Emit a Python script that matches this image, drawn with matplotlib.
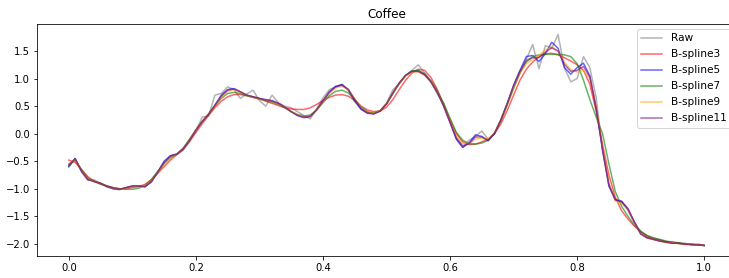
import numpy as np
import matplotlib
matplotlib.use("Agg")
import matplotlib.pyplot as plt

# sample positions (0 .. 1 in steps of 0.01)
t = np.round(np.arange(101) * 0.01, 2)

raw = [-0.60, -0.45, -0.70, -0.85, -0.84, -0.90, -0.97, -1.00, -1.02, -0.98,
       -0.96, -0.95, -0.97, -0.85, -0.70, -0.55, -0.40, -0.38, -0.30, -0.15,
       0.05, 0.30, 0.32, 0.70, 0.73, 0.85, 0.80, 0.64, 0.72, 0.79,
       0.60, 0.50, 0.70, 0.56, 0.50, 0.47, 0.40, 0.33, 0.27, 0.45,
       0.65, 0.80, 0.85, 0.90, 0.78, 0.58, 0.45, 0.38, 0.38, 0.42,
       0.55, 0.80, 0.90, 1.05, 1.15, 1.25, 1.10, 0.95, 0.72, 0.55,
       0.22, -0.10, -0.25, -0.12, -0.05, 0.05, -0.10, 0.00, 0.25, 0.55,
       0.85, 1.10, 1.35, 1.62, 1.18, 1.60, 1.55, 1.80, 1.20, 0.94,
       1.00, 1.40, 1.20, 0.65, -0.30, -0.95, -1.20, -1.22, -1.40, -1.60,
       -1.78, -1.87, -1.92, -1.93, -1.97, -1.96, -2.00, -1.99, -2.03, -2.00,
       -2.03]

bs3 = [-0.48, -0.52, -0.65, -0.78, -0.86, -0.91, -0.95, -0.98, -1.00, -1.00,
       -0.98, -0.96, -0.92, -0.84, -0.72, -0.60, -0.48, -0.38, -0.28, -0.14,
       0.02, 0.18, 0.33, 0.47, 0.59, 0.67, 0.71, 0.71, 0.69, 0.66,
       0.63, 0.59, 0.55, 0.51, 0.47, 0.45, 0.44, 0.44, 0.47, 0.53,
       0.60, 0.66, 0.70, 0.71, 0.68, 0.60, 0.50, 0.43, 0.40, 0.41,
       0.48, 0.62, 0.80, 0.97, 1.10, 1.17, 1.15, 1.02, 0.80, 0.52,
       0.25, 0.00, -0.15, -0.20, -0.19, -0.15, -0.10, 0.00, 0.18, 0.42,
       0.70, 0.97, 1.17, 1.30, 1.40, 1.45, 1.46, 1.43, 1.38, 1.32,
       1.25, 1.15, 0.90, 0.40, -0.20, -0.75, -1.15, -1.40, -1.55, -1.68,
       -1.78, -1.85, -1.90, -1.93, -1.96, -1.98, -1.99, -2.00, -2.01, -2.02,
       -2.03]

bs5 = [-0.60, -0.45, -0.68, -0.83, -0.87, -0.90, -0.96, -1.00, -1.01, -0.98,
       -0.95, -0.95, -0.96, -0.88, -0.70, -0.50, -0.40, -0.37, -0.28, -0.12,
       0.06, 0.22, 0.35, 0.52, 0.70, 0.80, 0.82, 0.76, 0.70, 0.67,
       0.64, 0.62, 0.60, 0.55, 0.48, 0.40, 0.33, 0.29, 0.31, 0.43,
       0.60, 0.76, 0.86, 0.89, 0.80, 0.60, 0.44, 0.37, 0.36, 0.41,
       0.54, 0.74, 0.92, 1.06, 1.13, 1.14, 1.07, 0.94, 0.75, 0.50,
       0.20, -0.10, -0.25, -0.17, -0.02, -0.05, -0.13, 0.00, 0.25, 0.55,
       0.88, 1.15, 1.40, 1.42, 1.31, 1.45, 1.66, 1.55, 1.20, 1.08,
       1.20, 1.28, 1.05, 0.45, -0.30, -0.95, -1.20, -1.23, -1.36, -1.60,
       -1.82, -1.89, -1.92, -1.95, -1.97, -1.99, -1.99, -2.01, -2.01, -2.02,
       -2.03]

bs7 = [-0.58, -0.48, -0.65, -0.80, -0.87, -0.92, -0.95, -0.98, -1.00, -1.01,
       -1.01, -0.99, -0.94, -0.83, -0.68, -0.54, -0.44, -0.37, -0.26, -0.10,
       0.07, 0.22, 0.36, 0.51, 0.64, 0.73, 0.75, 0.73, 0.69, 0.66,
       0.63, 0.60, 0.57, 0.53, 0.47, 0.40, 0.35, 0.32, 0.34, 0.43,
       0.56, 0.69, 0.77, 0.79, 0.74, 0.62, 0.49, 0.40, 0.37, 0.42,
       0.54, 0.72, 0.91, 1.05, 1.14, 1.15, 1.09, 0.96, 0.78, 0.55,
       0.28, 0.02, -0.12, -0.18, -0.19, -0.17, -0.12, 0.01, 0.23, 0.52,
       0.82, 1.10, 1.30, 1.40, 1.43, 1.44, 1.44, 1.44, 1.43, 1.40,
       1.27, 0.97, 0.62, 0.30, 0.00, -0.55, -1.05, -1.32, -1.50, -1.66,
       -1.77, -1.85, -1.89, -1.92, -1.95, -1.97, -1.98, -2.00, -2.01, -2.02,
       -2.03]

bs9 = [-0.55, -0.47, -0.66, -0.82, -0.87, -0.90, -0.95, -0.99, -1.01, -0.99,
       -0.96, -0.95, -0.95, -0.86, -0.70, -0.55, -0.43, -0.37, -0.28, -0.12,
       0.06, 0.22, 0.35, 0.50, 0.66, 0.77, 0.80, 0.76, 0.70, 0.66,
       0.63, 0.61, 0.58, 0.54, 0.48, 0.40, 0.34, 0.31, 0.33, 0.43,
       0.58, 0.73, 0.83, 0.86, 0.80, 0.64, 0.48, 0.39, 0.37, 0.42,
       0.55, 0.74, 0.92, 1.05, 1.12, 1.12, 1.06, 0.94, 0.75, 0.50,
       0.22, -0.05, -0.18, -0.18, -0.10, -0.08, -0.10, 0.02, 0.25, 0.53,
       0.85, 1.10, 1.27, 1.35, 1.42, 1.52, 1.58, 1.50, 1.30, 1.16,
       1.12, 1.15, 1.00, 0.50, -0.25, -0.90, -1.22, -1.27, -1.38, -1.62,
       -1.82, -1.90, -1.92, -1.95, -1.98, -1.98, -2.00, -2.01, -2.00, -2.02,
       -2.03]

bs11 = [-0.56, -0.46, -0.67, -0.83, -0.87, -0.90, -0.95, -0.99, -1.01, -0.98,
        -0.95, -0.95, -0.96, -0.87, -0.70, -0.52, -0.41, -0.37, -0.28, -0.12,
        0.06, 0.22, 0.35, 0.51, 0.68, 0.79, 0.81, 0.76, 0.70, 0.67,
        0.64, 0.61, 0.59, 0.55, 0.48, 0.40, 0.33, 0.30, 0.32, 0.43,
        0.59, 0.75, 0.85, 0.88, 0.80, 0.62, 0.46, 0.38, 0.36, 0.41,
        0.54, 0.74, 0.92, 1.06, 1.13, 1.13, 1.07, 0.94, 0.75, 0.50,
        0.21, -0.08, -0.22, -0.18, -0.06, -0.06, -0.12, 0.01, 0.25, 0.54,
        0.87, 1.13, 1.33, 1.38, 1.38, 1.48, 1.56, 1.50, 1.26, 1.13,
        1.15, 1.22, 1.03, 0.47, -0.28, -0.92, -1.20, -1.24, -1.37, -1.61,
        -1.82, -1.89, -1.92, -1.95, -1.97, -1.99, -1.99, -2.01, -2.01, -2.02,
        -2.03]

fig = plt.figure(figsize=(729 / 72, 278 / 72), dpi=72)
ax = fig.add_axes([37 / 729, 22 / 278, 699 / 729, 232 / 278])

ax.plot(t, raw, color="gray", alpha=0.6, label="Raw")
ax.plot(t, bs3, color="red", alpha=0.6, label="B-spline3")
ax.plot(t, bs5, color="blue", alpha=0.6, label="B-spline5")
ax.plot(t, bs7, color="green", alpha=0.6, label="B-spline7")
ax.plot(t, bs9, color="orange", alpha=0.6, label="B-spline9")
ax.plot(t, bs11, color="purple", alpha=0.6, label="B-spline11")

ax.set_title("Coffee")
ax.legend(loc="upper right", fontsize=10.5, labelspacing=0.57)

fig.savefig("out.png", dpi=72)
